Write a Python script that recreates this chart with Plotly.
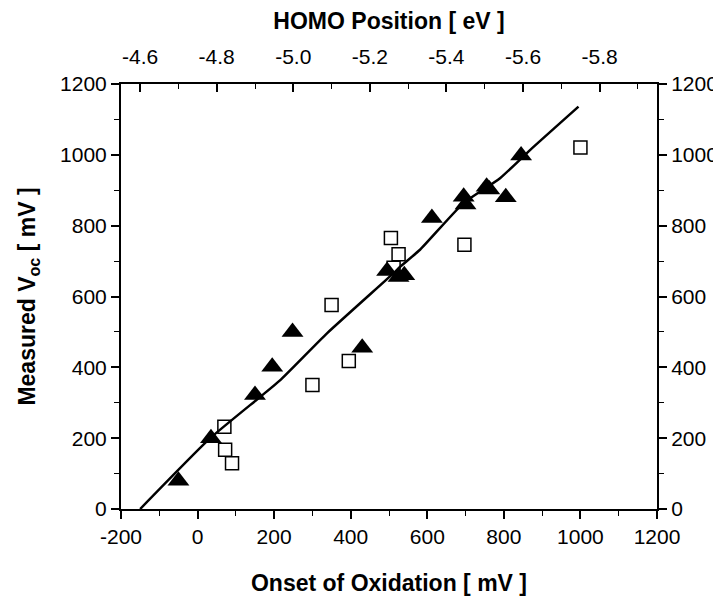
import plotly.graph_objects as go

# Filled triangles: onset of oxidation (mV) vs measured Voc (mV)
tri_x = [-50, 35, 150, 195, 248, 430, 495, 525, 540, 612, 695, 700, 755, 762, 805, 845]
tri_y = [80, 200, 322, 402, 500, 455, 672, 655, 660, 822, 882, 860, 910, 902, 880, 998]

# Open squares
sq_x = [70, 72, 90, 300, 350, 395, 505, 512, 525, 697, 1000]
sq_y = [232, 167, 129, 350, 576, 418, 765, 681, 719, 746, 1021]

# Fit line
fit_x = [-150, 33, 164, 216, 338, 512, 529, 581, 694, 790, 869, 995]
fit_y = [0, 200, 317, 364, 496, 666, 684, 732, 863, 934, 1014, 1136]

x_ticks = [-200, 0, 200, 400, 600, 800, 1000, 1200]
y_ticks = [0, 200, 400, 600, 800, 1000, 1200]
homo_ticks = [-4.6, -4.8, -5.0, -5.2, -5.4, -5.6, -5.8]
homo_minor = [-4.7, -4.9, -5.1, -5.3, -5.5, -5.7, -5.9]

FONT = "Liberation Sans, Arial, sans-serif"
TICKSIZE = 21
TITLESIZE = 23

fig = go.Figure()
fig.add_trace(go.Scatter(x=fit_x, y=fit_y, mode="lines",
                         line=dict(color="black", width=2.5, shape="spline", smoothing=0.5),
                         showlegend=False, hoverinfo="skip"))
fig.add_trace(go.Scatter(x=sq_x, y=sq_y, mode="markers",
                         marker=dict(symbol="square-open", size=13, color="black",
                                     line=dict(width=1.5, color="black")),
                         showlegend=False))
fig.add_trace(go.Scatter(x=tri_x, y=tri_y, mode="markers",
                         marker=dict(symbol="triangle-up", size=19, color="black"),
                         showlegend=False))
# invisible traces to activate secondary axes
fig.add_trace(go.Scatter(x=[-4.6], y=[0], xaxis="x2", yaxis="y", mode="markers",
                         marker=dict(opacity=0), showlegend=False, hoverinfo="skip"))
fig.add_trace(go.Scatter(x=[0], y=[0], xaxis="x", yaxis="y2", mode="markers",
                         marker=dict(opacity=0), showlegend=False, hoverinfo="skip"))

axis_common = dict(showline=True, linecolor="black", linewidth=2, showgrid=False,
                   zeroline=False, ticks="outside", tickcolor="black", tickwidth=1.5,
                   ticklen=8, automargin=False,
                   tickfont=dict(family=FONT, size=TICKSIZE, color="black"))
minor_out = dict(dtick=100, ticks="outside", ticklen=5, tickcolor="black", tickwidth=1.2)

fig.update_layout(
    width=721, height=601,
    margin=dict(l=113, r=72, t=76, b=100),
    plot_bgcolor="white", paper_bgcolor="white",
    font=dict(family=FONT, color="black"),
    xaxis=dict(range=[-200, 1200], tickvals=x_ticks, ticktext=[str(v) for v in x_ticks],
               minor=minor_out,
               title=dict(text="<b>Onset of Oxidation [ mV ]</b>", font=dict(size=TITLESIZE, family=FONT), standoff=28),
               **axis_common),
    yaxis=dict(range=[0, 1200], tickvals=y_ticks, ticktext=[str(v) for v in y_ticks],
               minor=minor_out,
               title=dict(text="<b>Measured V<sub>oc</sub> [ mV ]</b>", font=dict(size=TITLESIZE, family=FONT), standoff=18),
               **axis_common),
    yaxis2=dict(range=[0, 1200], overlaying="y", side="right", tickvals=y_ticks,
                ticktext=[str(v) for v in y_ticks], minor=minor_out,
                **axis_common),
    xaxis2=dict(range=[-4.55, -5.95], overlaying="x", side="top", tickvals=homo_ticks,
                ticktext=["%.1f" % v for v in homo_ticks],
                showline=True, linecolor="black", linewidth=2, showgrid=False, zeroline=False,
                ticks="inside", tickcolor="black", tickwidth=1.5, ticklen=8, automargin=False,
                ticklabelstandoff=10,
                tickfont=dict(family=FONT, size=TICKSIZE, color="black"),
                minor=dict(tickvals=homo_minor, ticks="inside",
                           ticklen=5, tickcolor="black", tickwidth=1.2),
                title=dict(text="<b>HOMO Position [ eV ]</b>", font=dict(size=TITLESIZE, family=FONT), standoff=10)),
)

fig.write_html("out.html")
